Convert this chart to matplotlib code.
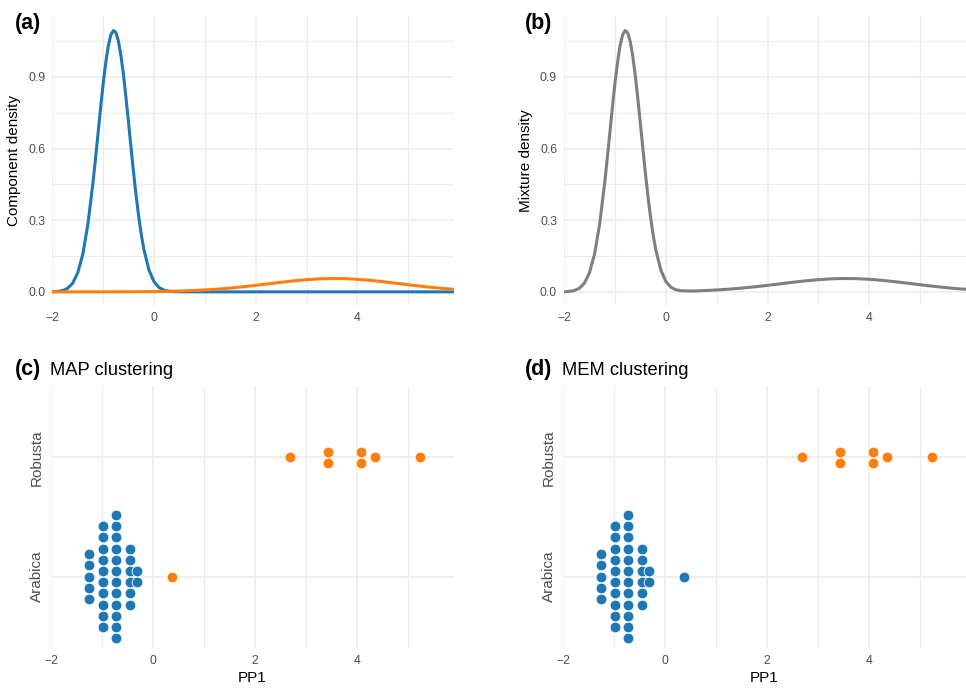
import matplotlib.pyplot as plt
from matplotlib.ticker import MultipleLocator
from collections import defaultdict

plt.rcParams['font.family'] = ['Liberation Sans', 'DejaVu Sans']

# colours
BLUE = '#1f77b4'
ORANGE = '#ff7f0e'
GREY = '#7f7f7f'
GRID = '#ebebeb'
TICK = '#4d4d4d'

# component 1 density
comp1_x = [-2.0, -1.9, -1.8, -1.7, -1.6, -1.5, -1.4, -1.3, -1.2, -1.15, -1.1, -1.05,
           -1.0, -0.95, -0.9, -0.85, -0.8, -0.75, -0.7, -0.65, -0.6, -0.55, -0.5,
           -0.45, -0.4, -0.35, -0.3, -0.25, -0.2, -0.1, 0.0, 0.1, 0.2, 0.3, 0.4,
           0.5, 0.6, 5.9]
comp1_y = [0.0005, 0.0018, 0.0054, 0.0147, 0.036, 0.0795, 0.158, 0.283, 0.457,
           0.558, 0.664, 0.770, 0.871, 0.958, 1.028, 1.075, 1.094, 1.086, 1.050,
           0.989, 0.908, 0.811, 0.707, 0.600, 0.496, 0.400, 0.314, 0.240, 0.179,
           0.092, 0.0426, 0.0178, 0.0067, 0.0023, 0.0007, 0.0002, 0.0, 0.0]

# component 2 density
comp2_x = [-2.0, -1.5, -1.0, -0.5, 0.0, 0.25, 0.5, 0.75, 1.0, 1.25, 1.5, 1.75,
           2.0, 2.25, 2.5, 2.75, 3.0, 3.25, 3.5, 3.75, 4.0, 4.25, 4.5, 4.75,
           5.0, 5.25, 5.5, 5.75, 5.9]
comp2_y = [0.0, 0.0, 0.0001, 0.0004, 0.0013, 0.0021, 0.0034, 0.0053, 0.0080,
           0.0114, 0.0159, 0.0212, 0.0272, 0.0337, 0.0402, 0.0462, 0.0511,
           0.0545, 0.0560, 0.0553, 0.0527, 0.0483, 0.0427, 0.0363, 0.0298,
           0.0235, 0.0179, 0.0131, 0.0107]

# mixture density (panel b)
mix_x = [-2.0, -1.9, -1.8, -1.7, -1.6, -1.5, -1.4, -1.3, -1.2, -1.15, -1.1, -1.05,
         -1.0, -0.95, -0.9, -0.85, -0.8, -0.75, -0.7, -0.65, -0.6, -0.55, -0.5,
         -0.45, -0.4, -0.35, -0.3, -0.25, -0.2, -0.1, 0.0, 0.1, 0.2, 0.3, 0.4,
         0.5, 0.6, 0.75, 1.0, 1.25, 1.5, 1.75, 2.0, 2.25, 2.5, 2.75, 3.0, 3.25,
         3.5, 3.75, 4.0, 4.25, 4.5, 4.75, 5.0, 5.25, 5.5, 5.75, 5.9]
mix_y = [0.0005, 0.0018, 0.0054, 0.0147, 0.036, 0.0795, 0.158, 0.283, 0.457,
         0.558, 0.664, 0.770, 0.871, 0.958, 1.028, 1.075, 1.094, 1.086, 1.050,
         0.989, 0.908, 0.811, 0.707, 0.600, 0.496, 0.400, 0.315, 0.241, 0.180,
         0.093, 0.044, 0.0194, 0.0086, 0.0048, 0.0037, 0.0036, 0.0039, 0.0053,
         0.0080, 0.0114, 0.0159, 0.0212, 0.0272, 0.0337, 0.0402, 0.0462, 0.0511,
         0.0545, 0.0560, 0.0553, 0.0527, 0.0483, 0.0427, 0.0363, 0.0298, 0.0235,
         0.0179, 0.0131, 0.0107]

# PP1 scores of the 43 samples, true class and cluster labels
pp1 = [-1.26, -1.26, -1.26, -1.26, -1.26,
       -0.975, -0.975, -0.975, -0.975, -0.975, -0.975, -0.975, -0.975, -0.975, -0.975,
       -0.73, -0.73, -0.73, -0.73, -0.73, -0.73, -0.73, -0.73, -0.73, -0.73, -0.73, -0.73,
       -0.455, -0.455, -0.455, -0.455, -0.455, -0.455,
       -0.31, -0.31,
       0.37,
       2.69, 3.43, 3.43, 4.08, 4.08, 4.35, 5.23]
variety = ['Arabica'] * 36 + ['Robusta'] * 7
map_cluster = [1] * 35 + [2] + [2] * 7
mem_cluster = [1] * 36 + [2] * 7

categories = ['Arabica', 'Robusta']


def base_style(ax):
    for s in ax.spines.values():
        s.set_visible(False)
    ax.tick_params(length=0, labelsize=8.8, labelcolor=TICK, pad=5)
    ax.set_xlim(-2, 5.9)
    ax.xaxis.set_major_locator(MultipleLocator(2))
    ax.xaxis.set_minor_locator(MultipleLocator(1))
    ax.grid(True, which='major', color=GRID, lw=1.1)
    ax.grid(True, which='minor', axis='x', color=GRID, lw=0.8)
    ax.set_axisbelow(True)
    ax.tick_params(which='minor', length=0)


def density_panel(ax, ylabel):
    base_style(ax)
    ax.set_ylim(-0.055, 1.155)
    ax.yaxis.set_major_locator(MultipleLocator(0.3))
    ax.yaxis.set_minor_locator(MultipleLocator(0.15))
    ax.grid(True, which='minor', axis='y', color=GRID, lw=0.8)
    ax.yaxis.set_major_formatter(lambda v, p: f'{v:.1f}')
    ax.set_ylabel(ylabel, fontsize=11, color='black')
    ax.yaxis.set_label_coords(-0.077, 0.5)


def cluster_panel(ax, clusters):
    base_style(ax)
    step = 0.094
    groups = defaultdict(list)
    for x, v, c in zip(pp1, variety, clusters):
        groups[(v, x)].append(c)
    for (v, x), cl in sorted(groups.items(), key=lambda t: t[0][1]):
        n = len(cl)
        yc = categories.index(v) + 1
        for i, c in enumerate(cl):
            y = yc + (i - (n - 1) / 2) * step
            ax.scatter(x, y, s=60, color=BLUE if c == 1 else ORANGE,
                       edgecolor='white', linewidth=0.6, zorder=3)
    ax.set_ylim(0.4, 2.6)
    ax.set_yticks([1, 2])
    ax.set_yticklabels(categories, rotation=90, va='center', fontsize=11)
    ax.set_xlabel('PP1', fontsize=11, color='black')
    ax.xaxis.set_label_coords(0.5, -0.088)


fig = plt.figure(figsize=(9.66, 6.88), dpi=100)
W, H = 966, 688


def rect(l, t, r, b):
    return [l / W, 1 - b / H, (r - l) / W, (b - t) / H]


ax_a = fig.add_axes(rect(52.3, 16, 454, 305))
ax_b = fig.add_axes(rect(564, 16, 966, 305))
ax_c = fig.add_axes(rect(51, 386, 454, 648))
ax_d = fig.add_axes(rect(563, 386, 966, 648))

density_panel(ax_a, 'Component density')
ax_a.plot(comp1_x, comp1_y, color=BLUE, lw=2.2)
ax_a.plot(comp2_x, comp2_y, color=ORANGE, lw=2.2)

density_panel(ax_b, 'Mixture density')
ax_b.plot(mix_x, mix_y, color=GREY, lw=2.2)

cluster_panel(ax_c, map_cluster)
cluster_panel(ax_d, mem_cluster)

# tags and titles
fig.text(15 / W, 1 - 28.5 / H, '(a)', fontsize=15.5, fontweight='bold', va='baseline')
fig.text(525 / W, 1 - 28.5 / H, '(b)', fontsize=15.5, fontweight='bold', va='baseline')
fig.text(15 / W, 1 - 375 / H, '(c)', fontsize=15.5, fontweight='bold', va='baseline')
fig.text(525 / W, 1 - 375 / H, '(d)', fontsize=15.5, fontweight='bold', va='baseline')
fig.text(49.5 / W, 1 - 375 / H, 'MAP clustering', fontsize=13.2, va='baseline')
fig.text(562.5 / W, 1 - 375 / H, 'MEM clustering', fontsize=13.2, va='baseline')

fig.savefig('out.png', dpi=100)
